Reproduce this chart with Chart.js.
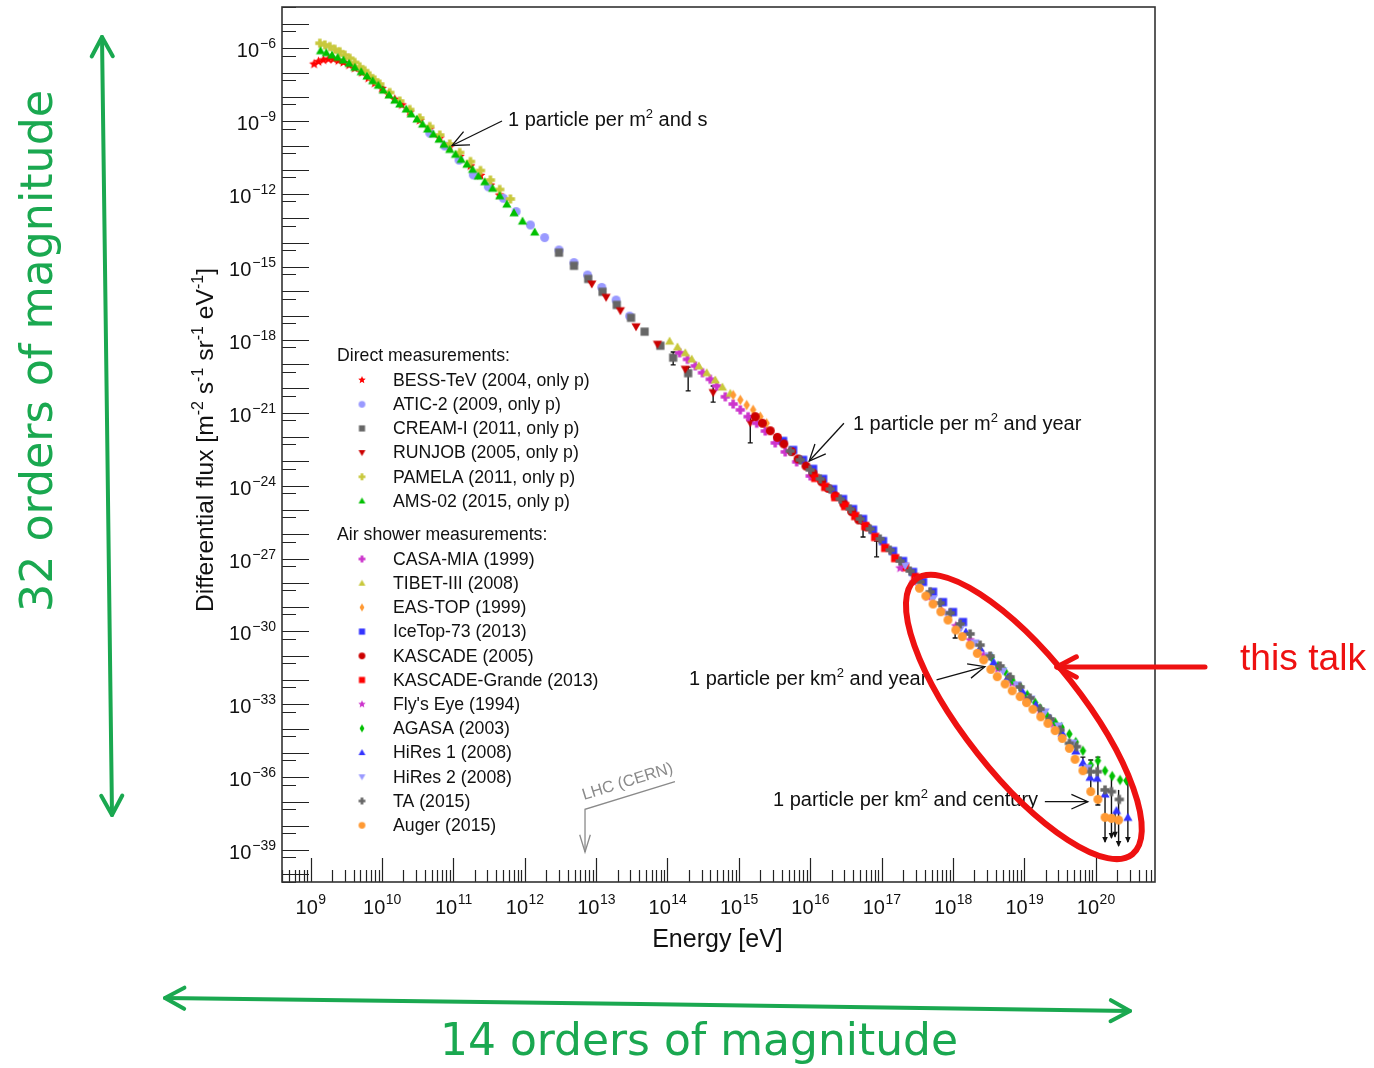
<!DOCTYPE html>
<html>
<head>
<meta charset="utf-8">
<title>Cosmic ray energy spectrum</title>
<script src="https://cdn.jsdelivr.net/npm/chart.js"></script>
<style>
  body { margin: 0; background: #fff; }
  canvas { display: block; }
</style>
</head>
<body>
<canvas id="spectrum" width="1374" height="1068"></canvas>
<script>
// points are [log10(E / eV), log10(flux / m^-2 s^-1 sr^-1 eV^-1)]
const BESS_TEV = [[9.05,-6.65],[9.11,-6.55],[9.18,-6.48],[9.25,-6.45],[9.32,-6.45],[9.39,-6.51],[9.46,-6.58],[9.54,-6.69],[9.62,-6.82],[9.72,-7.00],[9.81,-7.23],[9.90,-7.44],[10.00,-7.65],[10.09,-7.88],[10.18,-8.10],[10.28,-8.33],[10.39,-8.62],[10.53,-8.97],[10.67,-9.32],[10.81,-9.69],[10.95,-10.06],[11.09,-10.45],[11.24,-10.84],[11.38,-11.23],[11.52,-11.63],[11.65,-12.04]];
const ATIC2 = [[10.67,-9.49],[10.88,-10.02],[11.08,-10.60],[11.28,-11.21],[11.49,-11.70],[11.70,-12.17],[11.88,-12.72],[12.08,-13.27],[12.28,-13.79],[12.48,-14.30],[12.69,-14.82],[12.88,-15.33],[13.08,-15.84],[13.28,-16.36],[13.47,-17.02]];
const CREAM1 = [[12.48,-14.41],[12.69,-14.95],[12.89,-15.49],[13.09,-16.02],[13.29,-16.56],[13.49,-17.09],[13.68,-17.66],[13.90,-18.24],[14.08,-18.73],[14.29,-19.37]];
const RUNJOB = [[12.94,-15.70],[13.14,-16.25],[13.34,-16.80],[13.56,-17.46],[13.86,-18.18],[14.25,-19.21],[14.64,-20.17],[15.16,-21.41]];
const PAMELA = [[9.13,-5.79],[9.20,-5.86],[9.27,-5.93],[9.34,-6.04],[9.41,-6.14],[9.48,-6.28],[9.55,-6.41],[9.62,-6.58],[9.69,-6.76],[9.76,-6.92],[9.83,-7.13],[9.90,-7.30],[9.97,-7.47],[10.11,-7.82],[10.25,-8.17],[10.39,-8.52],[10.53,-8.87],[10.67,-9.22],[10.81,-9.57],[10.95,-9.94],[11.09,-10.29],[11.24,-10.66],[11.38,-11.03],[11.52,-11.42],[11.65,-11.81],[11.80,-12.20]];
const AMS02 = [[9.14,-6.10],[9.22,-6.18],[9.30,-6.28],[9.38,-6.37],[9.46,-6.48],[9.54,-6.62],[9.62,-6.78],[9.71,-6.96],[9.79,-7.14],[9.87,-7.33],[9.95,-7.52],[10.02,-7.72],[10.10,-7.92],[10.18,-8.13],[10.25,-8.29],[10.34,-8.50],[10.41,-8.70],[10.49,-8.91],[10.57,-9.12],[10.64,-9.32],[10.72,-9.53],[10.80,-9.74],[10.87,-9.95],[10.95,-10.16],[11.03,-10.36],[11.11,-10.57],[11.19,-10.77],[11.27,-10.98],[11.35,-11.26],[11.44,-11.49],[11.55,-11.76],[11.65,-12.07],[11.75,-12.41],[11.85,-12.77],[11.97,-13.11],[12.14,-13.56]];

const CASA_MIA = [[14.17,-18.53],[14.28,-18.80],[14.39,-19.07],[14.49,-19.35],[14.60,-19.62],[14.69,-19.90],[14.81,-20.34],[14.92,-20.64],[15.02,-20.88],[15.13,-21.16],[15.25,-21.43],[15.37,-21.75],[15.51,-22.24],[15.65,-22.61],[15.81,-23.02],[16.00,-23.60]];
const TIBET3 = [[14.03,-18.05],[14.14,-18.29],[14.25,-18.53],[14.34,-18.79],[14.44,-19.07],[14.55,-19.35],[14.67,-19.65],[14.77,-19.94],[14.88,-20.20]];
const EAS_TOP = [[14.92,-20.27],[15.02,-20.47],[15.11,-20.68],[15.20,-20.88],[15.30,-21.16],[15.39,-21.43]];
const ICETOP73 = [[15.62,-22.16],[15.76,-22.53],[15.90,-22.94],[16.04,-23.31],[16.18,-23.72],[16.32,-24.14],[16.46,-24.55],[16.60,-24.96],[16.74,-25.37],[16.88,-25.82],[17.02,-26.28],[17.16,-26.69],[17.30,-27.10],[17.44,-27.55],[17.58,-27.96],[17.72,-28.37],[17.86,-28.79],[18.00,-29.20],[18.14,-29.61]];
const KASCADE = [[15.23,-21.16],[15.33,-21.43],[15.44,-21.74],[15.54,-22.01],[15.63,-22.28],[15.74,-22.60],[15.83,-22.90],[15.94,-23.19],[16.04,-23.49],[16.16,-23.84],[16.25,-24.11],[16.35,-24.42],[16.47,-24.75],[16.58,-25.07],[16.68,-25.41],[16.79,-25.70]];
const KASCADE_GRANDE = [[16.07,-23.68],[16.21,-24.05],[16.35,-24.47],[16.49,-24.84],[16.63,-25.25],[16.77,-25.66],[16.91,-26.11],[17.05,-26.56],[17.19,-26.98],[17.33,-27.35],[17.47,-27.76]];
const FLYS_EYE = [[17.26,-27.39],[17.45,-27.96],[17.65,-28.58],[17.84,-29.16],[18.04,-29.77],[18.24,-30.35],[18.43,-30.97],[18.63,-31.54],[18.83,-32.12],[19.02,-32.70],[19.22,-33.27],[19.41,-33.81]];
const AGASA = [[18.54,-31.06],[18.63,-31.42],[18.73,-31.65],[18.83,-32.00],[18.94,-32.27],[19.04,-32.61],[19.15,-32.93],[19.22,-33.16],[19.32,-33.48],[19.43,-33.74],[19.52,-33.94],[19.63,-34.22],[19.72,-34.55],[19.82,-34.91],[19.93,-35.49],[20.03,-35.32],[20.13,-35.73],[20.23,-35.95],[20.34,-36.11],[20.43,-36.14]];
const HIRES1 = [[18.18,-30.02],[18.38,-30.68],[18.57,-31.26],[18.77,-31.87],[18.97,-32.45],[19.16,-33.02],[19.36,-33.56],[19.53,-34.18],[19.72,-34.92],[19.82,-35.40],[19.92,-36.00],[20.02,-36.04],[20.13,-36.69],[20.29,-37.37],[20.45,-37.65]];
const HIRES2 = [[17.33,-27.30],[17.52,-28.05],[17.72,-28.66],[17.91,-29.28],[18.11,-29.86],[18.31,-30.47],[18.50,-31.01],[18.70,-31.63],[18.90,-32.20],[19.09,-32.78],[19.29,-33.31],[19.48,-33.89],[19.68,-34.59],[19.89,-35.62]];
const TA = [[15.72,-22.57],[15.86,-22.94],[16.00,-23.35],[16.14,-23.72],[16.28,-24.14],[16.42,-24.55],[16.56,-24.96],[16.70,-25.37],[16.84,-25.78],[16.98,-26.19],[17.12,-26.65],[17.26,-27.10],[17.40,-27.51],[17.54,-27.96],[17.68,-28.37],[17.82,-28.83],[17.96,-29.24],[18.10,-29.69],[18.24,-30.10],[18.38,-30.56],[18.52,-31.01],[18.66,-31.42],[18.80,-31.87],[18.94,-32.28],[19.08,-32.74],[19.22,-33.19],[19.36,-33.60],[19.50,-34.05],[19.63,-34.60],[19.73,-34.74],[19.92,-35.77],[20.02,-35.77],[20.13,-36.52],[20.22,-36.59],[20.33,-36.91]];
const AUGER = [[17.53,-28.22],[17.62,-28.54],[17.72,-28.87],[17.83,-29.19],[17.93,-29.53],[18.04,-29.94],[18.13,-30.21],[18.24,-30.56],[18.34,-30.90],[18.43,-31.17],[18.53,-31.56],[18.62,-31.86],[18.73,-32.16],[18.83,-32.44],[18.94,-32.68],[19.03,-32.93],[19.12,-33.20],[19.23,-33.51],[19.33,-33.78],[19.43,-34.08],[19.53,-34.40],[19.63,-34.81],[19.71,-35.26],[19.82,-35.73],[19.93,-36.59],[20.03,-36.91],[20.13,-37.65],[20.22,-37.69],[20.32,-37.76]];

// error bars: [log10 E, log10 upper, log10 lower, 1 = upper limit arrow]
const ERR_BARS = [[14.08,-18.50,-19.03,0],[14.29,-19.12,-20.10,0],[14.64,-19.90,-20.56,0],[15.16,-21.13,-22.24,0],[16.74,-25.58,-26.11,0],[16.93,-26.28,-26.93,0],[18.03,-29.94,-30.27,0],[19.82,-35.17,-35.78,0],[19.93,-35.29,-36.52,0],[20.03,-35.17,-37.14,0],[20.13,-36.52,-38.66,1],[20.22,-35.95,-38.50,1],[20.27,-37.47,-38.45,1],[20.32,-36.52,-38.83,1],[20.45,-36.15,-38.66,1]];

const X_RANGE = [8.6, 20.83];
const Y_RANGE = [-40.31, -4.30];
const X_LABELS = [9, 10, 11, 12, 13, 14, 15, 16, 17, 18, 19, 20];
const Y_LABELS = [-6, -9, -12, -15, -18, -21, -24, -27, -30, -33, -36, -39];

const FONT = '"Liberation Sans", Arial, Helvetica, sans-serif';

let series = [
    { label: 'BESS-TeV (2004, only p)', pts: BESS_TEV, shape: 'star', color: '#ff0000', group: 0 },
    { label: 'ATIC-2 (2009, only p)', pts: ATIC2, shape: 'circle', color: '#9999ff', group: 0 },
    { label: 'CREAM-I (2011, only p)', pts: CREAM1, shape: 'square', color: '#666666', group: 0 },
    { label: 'RUNJOB (2005, only p)', pts: RUNJOB, shape: 'down', color: '#cc0000', group: 0 },
    { label: 'PAMELA (2011, only p)', pts: PAMELA, shape: 'plus', color: '#c8c83c', group: 0 },
    { label: 'AMS-02 (2015, only p)', pts: AMS02, shape: 'up', color: '#00c000', group: 0 },
    { label: 'CASA-MIA (1999)', pts: CASA_MIA, shape: 'plus', color: '#cc33cc', group: 1 },
    { label: 'TIBET-III (2008)', pts: TIBET3, shape: 'up', color: '#c8c83c', group: 1 },
    { label: 'EAS-TOP (1999)', pts: EAS_TOP, shape: 'diamond', color: '#ff9933', group: 1 },
    { label: 'IceTop-73 (2013)', pts: ICETOP73, shape: 'square', color: '#3333ff', group: 1 },
    { label: 'KASCADE (2005)', pts: KASCADE, shape: 'circle', color: '#cc0000', group: 1 },
    { label: 'KASCADE-Grande (2013)', pts: KASCADE_GRANDE, shape: 'square', color: '#ff0000', group: 1 },
    { label: "Fly's Eye (1994)", pts: FLYS_EYE, shape: 'star', color: '#cc33cc', group: 1 },
    { label: 'AGASA (2003)', pts: AGASA, shape: 'diamond', color: '#00c000', group: 1 },
    { label: 'HiRes 1 (2008)', pts: HIRES1, shape: 'up', color: '#3333ff', group: 1 },
    { label: 'HiRes 2 (2008)', pts: HIRES2, shape: 'down', color: '#9999ff', group: 1 },
    { label: 'TA (2015)', pts: TA, shape: 'plus', color: '#666666', group: 1 },
    { label: 'Auger (2015)', pts: AUGER, shape: 'circle', color: '#ff9933', group: 1 }
];

let markerSize = { star: 10.5, circle: 9, square: 8.2, up: 9.2, down: 9.2, plus: 9.2, diamond: 10.5 };

// small canvases used as point styles (ROOT-like filled markers)
makeMarker = (shape, color, size) => {
    let c = document.createElement('canvas');
    let s = Math.ceil(size) + 2;
    c.width = s;
    c.height = s;
    let g = c.getContext('2d');
    let m = s / 2;
    let r = size / 2;
    g.fillStyle = color;
    g.beginPath();
    if (shape == 'circle') {
        g.arc(m, m, r, 0, 2 * Math.PI);
    } else if (shape == 'square') {
        g.rect(m - r, m - r, 2 * r, 2 * r);
    } else if (shape == 'up') {
        g.moveTo(m, m - r);
        g.lineTo(m + r, m + r * 0.75);
        g.lineTo(m - r, m + r * 0.75);
    } else if (shape == 'down') {
        g.moveTo(m, m + r);
        g.lineTo(m + r, m - r * 0.75);
        g.lineTo(m - r, m - r * 0.75);
    } else if (shape == 'diamond') {
        g.moveTo(m, m - r);
        g.lineTo(m + r * 0.62, m);
        g.lineTo(m, m + r);
        g.lineTo(m - r * 0.62, m);
    } else if (shape == 'plus') {
        let w = r * 0.38;
        g.rect(m - r, m - w, 2 * r, 2 * w);
        g.rect(m - w, m - r, 2 * w, 2 * r);
    } else {
        for (let i = 0; i < 10; i++) {
            let a = -Math.PI / 2 + i * Math.PI / 5;
            let rr = i % 2 ? r * 0.45 : r;
            g.lineTo(m + rr * Math.cos(a), m + rr * Math.sin(a));
        }
    }
    g.closePath();
    g.fill();
    return c;
};

let datasets = [];
for (let i = 0; i < series.length; i++) {
    let s = series[i];
    s.marker = makeMarker(s.shape, s.color, markerSize[s.shape]);
    s.legendMarker = makeMarker(s.shape, s.color, markerSize[s.shape] * 0.75);
    datasets.push({
        label: s.label,
        data: s.pts.map(p => ({ x: Math.pow(10, p[0]), y: Math.pow(10, p[1]) })),
        pointStyle: s.marker,
        pointRadius: 4,
        order: series.length - i   // later experiments drawn on top, like the original
    });
}

px = (chart, logE) => chart.scales.x.getPixelForValue(Math.pow(10, logE));
py = (chart, logF) => chart.scales.y.getPixelForValue(Math.pow(10, logF));

chevron = (ctx, x1, y1, x2, y2, len, ang) => {
    let a = Math.atan2(y2 - y1, x2 - x1);
    ctx.beginPath();
    ctx.moveTo(x2 - len * Math.cos(a - ang), y2 - len * Math.sin(a - ang));
    ctx.lineTo(x2, y2);
    ctx.lineTo(x2 - len * Math.cos(a + ang), y2 - len * Math.sin(a + ang));
    ctx.stroke();
};

arrowLine = (ctx, x1, y1, x2, y2, len, ang) => {
    ctx.beginPath();
    ctx.moveTo(x1, y1);
    ctx.lineTo(x2, y2);
    ctx.stroke();
    chevron(ctx, x1, y1, x2, y2, len, ang);
};

// text made of [string, isSuperscript] pieces
supWidth = (ctx, parts, size) => {
    let w = 0;
    for (let p of parts) {
        ctx.font = (p[1] ? size * 0.65 : size) + 'px ' + FONT;
        w += ctx.measureText(p[0]).width;
    }
    return w;
};
supText = (ctx, parts, x, y, size) => {
    let cx = x;
    ctx.textAlign = 'left';
    ctx.textBaseline = 'alphabetic';
    for (let p of parts) {
        ctx.font = (p[1] ? size * 0.65 : size) + 'px ' + FONT;
        ctx.fillText(p[0], cx, p[1] ? y - size * 0.42 : y);
        cx += ctx.measureText(p[0]).width;
    }
    return cx - x;
};

// annotations, anchored in data coordinates (log10 E, log10 flux)
let notes = [
    { parts: [['1 particle per m', 0], ['2', 1], [' and s', 0]], at: [11.766, -9.198], from: [11.682, -8.992], to: [10.982, -10.0] },
    { parts: [['1 particle per m', 0], ['2', 1], [' and year', 0]], at: [16.598, -21.708], from: [16.472, -21.432], to: [15.986, -22.984] },
    { parts: [['1 particle per km', 0], ['2', 1], [' and year', 0]], at: [14.301, -32.202], from: [17.770, -31.996], to: [18.447, -31.449] },
    { parts: [['1 particle per km', 0], ['2', 1], [' and century', 0]], at: [15.478, -37.181], from: [19.287, -37.004], to: [19.889, -37.004] }
];
let lhc = { text: 'LHC (CERN)', energy: 12.845, tip: -39.074, corner: -37.317, end: [14.105, -36.181], label: [12.831, -36.934] };
let talk = { center: [18.993, -33.519], tip: [19.455, -31.461] };

let rootStyle = {
    id: 'rootStyle',
    beforeDatasetsDraw(chart) {
        let ctx = chart.ctx;
        ctx.save();
        ctx.strokeStyle = '#111';
        ctx.fillStyle = '#111';
        ctx.lineWidth = 1.4;
        for (let e of ERR_BARS) {
            let x = px(chart, e[0]);
            let y1 = py(chart, e[1]);
            let y2 = py(chart, e[2]);
            ctx.beginPath();
            ctx.moveTo(x, y1);
            ctx.lineTo(x, y2);
            ctx.stroke();
            if (e[3]) {
                ctx.beginPath();
                ctx.moveTo(x - 2.8, y2 - 5);
                ctx.lineTo(x + 2.8, y2 - 5);
                ctx.lineTo(x, y2 + 1);
                ctx.closePath();
                ctx.fill();
            } else {
                ctx.beginPath();
                ctx.moveTo(x - 2.5, y2);
                ctx.lineTo(x + 2.5, y2);
                ctx.moveTo(x - 2.5, y1);
                ctx.lineTo(x + 2.5, y1);
                ctx.stroke();
            }
        }
        ctx.restore();
    },
    afterDatasetsDraw(chart) {
        let ctx = chart.ctx;
        let area = chart.chartArea;
        ctx.save();

        // frame and inside ticks
        ctx.strokeStyle = '#222';
        ctx.lineWidth = 1.2;
        ctx.beginPath();
        for (let n = 8; n <= 20; n++) {
            for (let k = 1; k <= 9; k++) {
                let v = n + Math.log10(k);
                if (v < X_RANGE[0] || v > X_RANGE[1]) continue;
                let x = Math.round(px(chart, v)) + 0.5;
                ctx.moveTo(x, area.bottom);
                ctx.lineTo(x, area.bottom - (k == 1 ? 24 : 12));
            }
        }
        for (let n = -40; n <= -4; n++) {
            let y = Math.round(py(chart, n)) + 0.5;
            if (n > Y_RANGE[0] && n < Y_RANGE[1]) {
                ctx.moveTo(area.left, y);
                ctx.lineTo(area.left + 27, y);
            }
            let ys = Math.round(py(chart, n - Math.log10(2))) + 0.5;
            if (n - Math.log10(2) > Y_RANGE[0] && n - Math.log10(2) < Y_RANGE[1]) {
                ctx.moveTo(area.left, ys);
                ctx.lineTo(area.left + 14, ys);
            }
        }
        ctx.stroke();
        ctx.strokeStyle = '#333';
        ctx.lineWidth = 1.6;
        ctx.strokeRect(area.left, area.top, area.right - area.left, area.bottom - area.top);

        // tick labels 10^n
        ctx.fillStyle = '#111';
        ctx.textBaseline = 'alphabetic';
        for (let n of X_LABELS) {
            let x = px(chart, n);
            ctx.font = '20px ' + FONT;
            let w1 = ctx.measureText('10').width;
            ctx.font = '14px ' + FONT;
            let w2 = ctx.measureText(String(n)).width;
            let x0 = x - (w1 + w2) / 2;
            ctx.textAlign = 'left';
            ctx.font = '20px ' + FONT;
            ctx.fillText('10', x0, area.bottom + 32);
            ctx.font = '14px ' + FONT;
            ctx.fillText(String(n), x0 + w1 + 0.5, area.bottom + 22);
        }
        for (let n of Y_LABELS) {
            let y = py(chart, n);
            let ex = '\u2212' + String(-n);
            ctx.font = '14px ' + FONT;
            let w2 = ctx.measureText(ex).width;
            let xr = area.left - 6;
            ctx.textAlign = 'left';
            ctx.fillText(ex, xr - w2, y);
            ctx.font = '20px ' + FONT;
            ctx.textAlign = 'right';
            ctx.fillText('10', xr - w2 - 1, y + 9);
        }

        // axis titles
        ctx.textAlign = 'center';
        ctx.font = '25px ' + FONT;
        ctx.fillText('Energy [eV]', (area.left + area.right) / 2 - 1, area.bottom + 65);

        let yTitle = [['Differential flux [m', 0], ['-2', 1], [' s', 0], ['-1', 1], [' sr', 0], ['-1', 1], [' eV', 0], ['-1', 1], [']', 0]];
        let wy = supWidth(ctx, yTitle, 24);
        ctx.save();
        ctx.translate(213, 440);
        ctx.rotate(-Math.PI / 2);
        ctx.scale(344 / wy, 1);
        supText(ctx, yTitle, -wy / 2, 0, 24);
        ctx.restore();

        // legend
        ctx.fillStyle = '#111';
        ctx.textAlign = 'left';
        ctx.textBaseline = 'middle';
        ctx.font = '17.7px ' + FONT;
        ctx.fillText('Direct measurements:', 337, 356);
        ctx.fillText('Air shower measurements:', 337, 535);
        let row = [0, 0];
        for (let s of series) {
            let y = s.group == 0 ? 380 + 24.2 * row[0]++ : 559 + 24.2 * row[1]++;
            let m = s.legendMarker;
            ctx.drawImage(m, 362 - m.width / 2, y - m.height / 2);
            ctx.fillText(s.label, 393, y + 1);
        }

        // "1 particle per ..." notes
        ctx.fillStyle = '#111';
        ctx.strokeStyle = '#111';
        ctx.lineWidth = 1.3;
        for (let nt of notes) {
            supText(ctx, nt.parts, px(chart, nt.at[0]), py(chart, nt.at[1]), 20);
            arrowLine(ctx, px(chart, nt.from[0]), py(chart, nt.from[1]), px(chart, nt.to[0]), py(chart, nt.to[1]), 18, 0.42);
        }

        // LHC marker
        ctx.strokeStyle = '#8a8a8a';
        ctx.fillStyle = '#8a8a8a';
        ctx.lineWidth = 1.3;
        let lx = px(chart, lhc.energy);
        let ex = px(chart, lhc.end[0]);
        let ey = py(chart, lhc.end[1]);
        let cy = py(chart, lhc.corner);
        ctx.beginPath();
        ctx.moveTo(ex, ey);
        ctx.lineTo(lx, cy);
        ctx.lineTo(lx, py(chart, lhc.tip));
        ctx.stroke();
        chevron(ctx, lx, cy, lx, py(chart, lhc.tip), 18, 0.3);
        ctx.save();
        ctx.translate(px(chart, lhc.label[0]), py(chart, lhc.label[1]));
        ctx.rotate(Math.atan2(ey - cy, ex - lx));
        ctx.font = '16.3px ' + FONT;
        ctx.textAlign = 'left';
        ctx.textBaseline = 'alphabetic';
        ctx.fillText(lhc.text, 0, 0);
        ctx.restore();

        // red ellipse + arrow, "this talk"
        let red = '#ee1111';
        ctx.strokeStyle = red;
        ctx.lineWidth = 6;
        ctx.beginPath();
        ctx.ellipse(px(chart, talk.center[0]), py(chart, talk.center[1]), 175, 59, 51.7 * Math.PI / 180, 0, 2 * Math.PI);
        ctx.stroke();
        let tx = px(chart, talk.tip[0]);
        let ty = py(chart, talk.tip[1]);
        ctx.lineWidth = 5;
        ctx.lineCap = 'round';
        ctx.lineJoin = 'round';
        arrowLine(ctx, 1205, ty, tx, ty, 22, 0.48);
        ctx.fillStyle = red;
        ctx.font = '36px ' + FONT;
        ctx.textAlign = 'left';
        ctx.textBaseline = 'alphabetic';
        let wt = ctx.measureText('this talk').width;
        ctx.save();
        ctx.translate(1240, 670);
        ctx.scale(126 / wt, 1);
        ctx.fillText('this talk', 0, 0);
        ctx.restore();

        // green "orders of magnitude" arrows
        let green = '#1aa850';
        ctx.strokeStyle = green;
        ctx.fillStyle = green;
        ctx.lineWidth = 4;
        arrowLine(ctx, 107, 420, 102, 37, 22, 0.5);
        arrowLine(ctx, 107, 420, 112, 815, 22, 0.5);
        arrowLine(ctx, 640, 1004, 165, 998, 22, 0.5);
        arrowLine(ctx, 640, 1004, 1130, 1011, 22, 0.5);
        ctx.font = '45px "DejaVu Sans", sans-serif';
        let w14 = ctx.measureText('14 orders of magnitude').width;
        ctx.save();
        ctx.translate(440, 1055);
        ctx.scale(518 / w14, 1);
        ctx.fillText('14 orders of magnitude', 0, 0);
        ctx.restore();
        let w32 = ctx.measureText('32 orders of magnitude').width;
        ctx.save();
        ctx.translate(52, 612);
        ctx.rotate(-Math.PI / 2);
        ctx.scale(522 / w32, 1);
        ctx.fillText('32 orders of magnitude', 0, 0);
        ctx.restore();

        ctx.restore();
    }
};

let chartSpectrum = new Chart(document.getElementById('spectrum'), {
    type: 'scatter',
    data: { datasets: datasets },
    options: {
        responsive: false,
        animation: false,
        devicePixelRatio: 1,
        events: [],
        layout: { padding: { left: 282, top: 7, right: 219, bottom: 186 } },
        scales: {
            x: { type: 'logarithmic', min: Math.pow(10, X_RANGE[0]), max: Math.pow(10, X_RANGE[1]), display: false },
            y: { type: 'logarithmic', min: Math.pow(10, Y_RANGE[0]), max: Math.pow(10, Y_RANGE[1]), display: false }
        },
        plugins: {
            legend: { display: false },
            tooltip: { enabled: false }
        }
    },
    plugins: [rootStyle]
});
</script>
</body>
</html>
